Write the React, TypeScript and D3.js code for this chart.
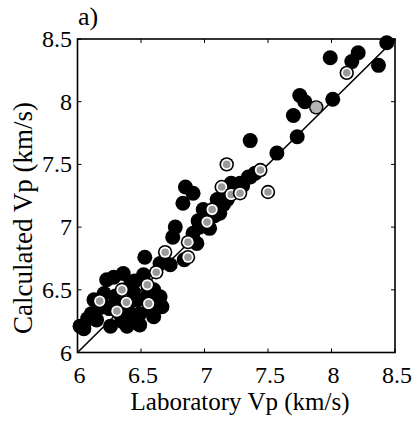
import React from "react";
import * as d3 from "d3";

const ticks = [6, 6.5, 7, 7.5, 8, 8.5];
const tickLabels = ["6", "6.5", "7", "7.5", "8", "8.5"];

// black filled samples: [laboratory, calculated]
const blackX = [8.435, 7.99, 8.21, 8.16, 8.37, 7.75, 7.79, 8.01, 7.70, 7.73, 7.36, 7.57,
  7.345, 7.40, 6.85, 6.91, 6.83, 7.21, 7.12, 7.15, 6.77, 6.75, 6.91, 6.96, 6.94, 7.04, 6.65,
  7.10, 7.28, 7.36, 7.08, 7.18, 7.25, 7.30, 7.00, 6.95, 6.99,
  6.05, 6.02, 6.11, 6.23, 6.285, 6.36, 6.42, 6.21, 6.15, 6.26, 6.39, 6.49, 6.60, 6.665, 6.65,
  6.47, 6.49, 6.44, 6.52, 6.73, 6.84, 6.53, 6.34, 6.30, 6.18, 6.56,
  6.30, 6.25, 6.40, 6.55, 6.58, 6.20, 6.35, 6.45, 6.60, 6.45, 6.13, 6.08];
const blackY = [8.47, 8.35, 8.39, 8.32, 8.29, 8.05, 8.00, 8.02, 7.89, 7.72, 7.69, 7.59,
  7.40, 7.43, 7.32, 7.27, 7.19, 7.35, 7.11, 7.18, 7.00, 6.92, 6.95, 7.00, 6.87, 6.99, 6.71,
  7.22, 7.35, 7.40, 7.09, 7.22, 7.30, 7.33, 7.08, 7.05, 7.14,
  6.19, 6.21, 6.31, 6.58, 6.60, 6.63, 6.55, 6.47, 6.26, 6.21, 6.21, 6.22, 6.285, 6.365, 6.445,
  6.42, 6.31, 6.485, 6.62, 6.70, 6.74, 6.76, 6.30, 6.45, 6.36, 6.50,
  6.40, 6.35, 6.33, 6.45, 6.35, 6.38, 6.25, 6.25, 6.50, 6.57, 6.42, 6.27];

// marked (ringed) samples
const markX = [8.12, 7.175, 7.44, 7.50, 7.135, 7.21, 7.28, 7.06, 7.02, 6.87, 6.87, 6.69,
  6.175, 6.35, 6.385, 6.31, 6.56, 6.55, 6.62];
const markY = [8.23, 7.50, 7.455, 7.28, 7.32, 7.26, 7.27, 7.14, 7.04, 6.88, 6.76, 6.80,
  6.41, 6.50, 6.40, 6.33, 6.39, 6.54, 6.64];

// gray filled sample
const grayX = [7.88];
const grayY = [7.955];

const W = 414, H = 423;
const x = d3.scaleLinear().domain([6, 8.5]).range([77.5, 395]);
const y = d3.scaleLinear().domain([6, 8.5]).range([352.5, 39]);

export default function App() {
  const font = "'Liberation Serif', 'Times New Roman', serif";
  const r = 7.5;
  return (
    <svg width={W} height={H} style={{ position: "fixed", left: 0, top: 0, background: "#fff" }}>
      <rect x={0} y={0} width={W} height={H} fill="#fff" />
      {/* 1:1 line */}
      <line x1={x(6)} y1={y(6)} x2={x(8.5)} y2={y(8.5)} stroke="#000" strokeWidth={1.6} />
      {blackX.map((v, i) => (
        <circle key={"b" + i} cx={x(v)} cy={y(blackY[i])} r={r} fill="#000" />
      ))}
      {markX.map((v, i) => (
        <g key={"m" + i}>
          <circle cx={x(v)} cy={y(markY[i])} r={7.2} fill="#000" />
          <circle cx={x(v)} cy={y(markY[i])} r={5.6} fill="#fff" />
          <circle cx={x(v)} cy={y(markY[i])} r={3.8} fill="#9a9a9a" />
        </g>
      ))}
      {grayX.map((v, i) => (
        <g key={"g" + i}>
          <circle cx={x(v)} cy={y(grayY[i])} r={7.2} fill="#000" />
          <circle cx={x(v)} cy={y(grayY[i])} r={5.8} fill="#b4b4b4" />
        </g>
      ))}
      {/* box */}
      <rect x={x(6)} y={y(8.5)} width={x(8.5) - x(6)} height={y(6) - y(8.5)} fill="none" stroke="#000" strokeWidth={1.6} />
      {ticks.map((t, i) => (
        <g key={"t" + i}>
          <line x1={x(t)} x2={x(t)} y1={y(6)} y2={y(6) - 4} stroke="#000" strokeWidth={1} />
          <line x1={x(t)} x2={x(t)} y1={y(8.5)} y2={y(8.5) + 4} stroke="#000" strokeWidth={1} />
          <line x1={x(6)} x2={x(6) + 4} y1={y(t)} y2={y(t)} stroke="#000" strokeWidth={1} />
          <line x1={x(8.5)} x2={x(8.5) - 4} y1={y(t)} y2={y(t)} stroke="#000" strokeWidth={1} />
          <text x={x(t) + 2} y={383} textAnchor="middle" fontFamily={font} fontSize={24} fill="#000">{tickLabels[i]}</text>
          <text x={72} y={y(t) + 8} textAnchor="end" fontFamily={font} fontSize={24} fill="#000">{tickLabels[i]}</text>
        </g>
      ))}
      <text x={240} y={410} textAnchor="middle" fontFamily={font} fontSize={25} fill="#000">Laboratory Vp (km/s)</text>
      <text transform="translate(32,218) rotate(-90)" textAnchor="middle" fontFamily={font} fontSize={27} fill="#000">Calculated Vp (km/s)</text>
      <text x={78} y={25} fontFamily={font} fontSize={26} fill="#000">a)</text>
    </svg>
  );
}
